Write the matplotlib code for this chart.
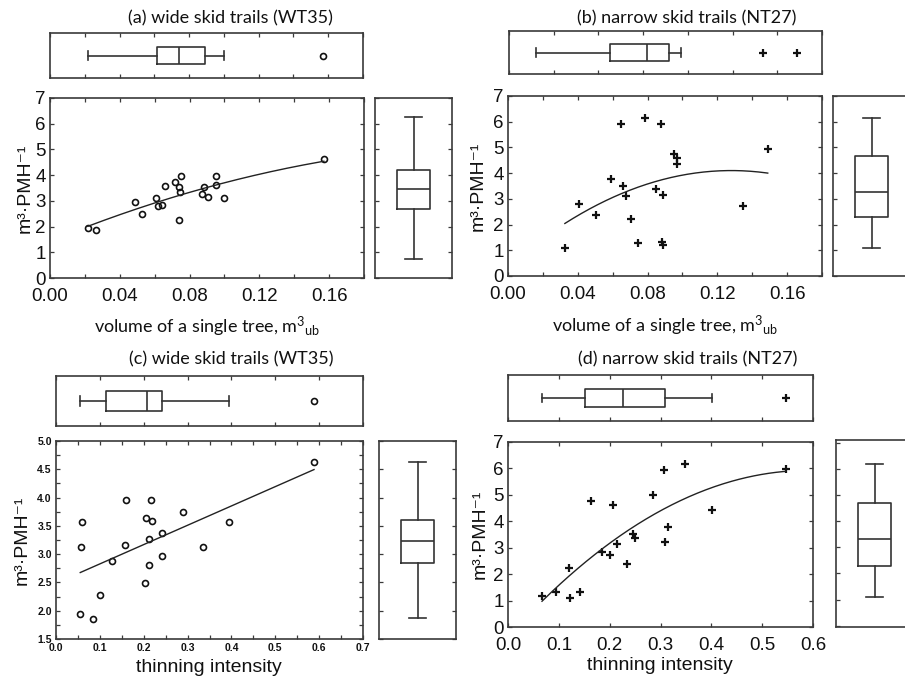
import numpy as np
import matplotlib
matplotlib.use("Agg")
import matplotlib.pyplot as plt
from matplotlib.ticker import MultipleLocator, NullFormatter

# ---------------- data ----------------
# (a) wide skid trails, volume of a single tree
xa = [0.0217, 0.0263, 0.0489, 0.0527, 0.0609, 0.0617, 0.0640, 0.0657, 0.0719, 0.0740,
      0.0743, 0.0749, 0.0740, 0.0872, 0.0881, 0.0904, 0.0954, 0.0954, 0.0996, 0.1570]
ya = [1.93, 1.87, 2.94, 2.48, 3.11, 2.79, 2.85, 3.56, 3.73, 3.55,
      3.36, 3.95, 2.27, 3.27, 3.55, 3.16, 3.95, 3.62, 3.12, 4.63]
fit_a = [-51.2, 27.85, 1.43]
top_box_a = [0.0217, 0.0614, 0.0742, 0.0892, 0.0998]
top_fliers_a = [0.157]
right_box_a = [0.73, 2.68, 3.45, 4.20, 6.25]

# (b) narrow skid trails, volume of a single tree
xb = [0.0326, 0.0408, 0.0502, 0.0588, 0.0650, 0.0659, 0.0674, 0.0705, 0.0745, 0.0788,
      0.0849, 0.0879, 0.0887, 0.0885, 0.0887, 0.0954, 0.0971, 0.0971, 0.1345, 0.1489]
yb = [1.08, 2.80, 2.37, 3.79, 5.92, 3.49, 3.11, 2.22, 1.30, 6.13,
      3.37, 5.90, 3.16, 1.34, 1.19, 4.73, 4.60, 4.37, 2.72, 4.95]
fit_b = [-226.0, 57.86, 0.397]
top_box_b = [0.0121, 0.0453, 0.0617, 0.0716, 0.0769]
top_fliers_b = [0.1138, 0.1287]
right_box_b = [1.10, 2.30, 3.27, 4.67, 6.15]

# (c) wide skid trails, thinning intensity
xc = [0.0553, 0.0576, 0.0599, 0.0842, 0.0993, 0.1281, 0.1577, 0.1607, 0.2039, 0.2047,
      0.2115, 0.2115, 0.2168, 0.2191, 0.2419, 0.2426, 0.2904, 0.3359, 0.3942, 0.5883]
yc = [1.94, 3.12, 3.56, 1.86, 2.28, 2.87, 3.16, 3.96, 2.49, 3.64,
      3.27, 2.80, 3.96, 3.58, 2.96, 3.37, 3.74, 3.12, 3.56, 4.62]
fit_c = [3.415, 2.486]
top_box_c = [0.0538, 0.113, 0.2077, 0.2419, 0.395]
top_fliers_c = [0.588]
right_box_c = [1.87, 2.84, 3.23, 3.61, 4.63]

# (d) narrow skid trails, thinning intensity
xd = [0.0669, 0.0938, 0.1193, 0.1213, 0.1410, 0.1626, 0.1843, 0.2000, 0.2072, 0.2151,
      0.2348, 0.2466, 0.2492, 0.2859, 0.3069, 0.3082, 0.3141, 0.3482, 0.4013, 0.5462]
yd = [1.19, 1.33, 2.24, 1.09, 1.33, 4.76, 2.84, 2.73, 4.63, 3.14,
      2.39, 3.51, 3.38, 4.99, 5.94, 3.20, 3.80, 6.18, 4.41, 5.97]
fit_d = [-18.0, 21.29, -0.369]
top_box_d = [0.0669, 0.1508, 0.2256, 0.3082, 0.402]
top_fliers_d = [0.546]
right_box_d = [1.09, 2.30, 3.32, 4.68, 6.19]

titles = ["(a) wide skid trails (WT35)", "(b) narrow skid trails (NT27)",
          "(c) wide skid trails (WT35)", "(d) narrow skid trails (NT27)"]
ylabel = "m³·PMH⁻¹"
xlabel_vol = r"volume of a single tree, m$^{3}$$_{\mathregular{ub}}$"
xlabel_thin = "thinning intensity"

# ---------------- style ----------------
W, H = 905, 685
plt.rcParams['mathtext.fontset'] = 'custom'
plt.rcParams['mathtext.rm'] = 'Lato'
plt.rcParams['mathtext.it'] = 'Lato:italic'
plt.rcParams['mathtext.bf'] = 'Lato:bold'
SP = '#3a3a3a'
TXT = '#111111'
ARIAL = ['Liberation Sans', 'DejaVu Sans']
CAL = ['Lato', 'DejaVu Sans']

fig = plt.figure(figsize=(W / 100, H / 100), dpi=100)


def add_ax(l, t, r, b):
    return fig.add_axes([l / W, 1 - b / H, (r - l) / W, (b - t) / H])


def style(ax):
    for s in ax.spines.values():
        s.set_color(SP)
        s.set_linewidth(1.2)
    ax.tick_params(which='both', direction='in', top=True, right=True,
                   color=SP, width=0.9, length=3, colors=SP, labelcolor=TXT)


def scatter_panel(ax, x, y, fit, marker, xlim, ylim, xmaj, xmin, ymaj, ymin,
                  xfmt, yfmt, tsize, tweight='normal', xpad=7):
    style(ax)
    if marker == 'o':
        ax.plot(x, y, ls='none', marker='o', ms=4.3, mfc='none', mec='#111111', mew=1.2)
    else:
        ax.plot(x, y, ls='none', marker='+', ms=6, mec='#111111', mew=1.6)
    xs = np.linspace(min(x), max(x), 200)
    ax.plot(xs, np.polyval(fit, xs), color='#222222', lw=1.0)
    ax.set_xlim(*xlim)
    ax.set_ylim(*ylim)
    ax.xaxis.set_major_locator(MultipleLocator(xmaj))
    ax.xaxis.set_minor_locator(MultipleLocator(xmin))
    ax.yaxis.set_major_locator(MultipleLocator(ymaj))
    if ymin:
        ax.yaxis.set_minor_locator(MultipleLocator(ymin))
    ax.xaxis.set_major_formatter(plt.FuncFormatter(lambda v, p: xfmt.format(v)))
    ax.yaxis.set_major_formatter(plt.FuncFormatter(lambda v, p: yfmt.format(v)))
    for lab in ax.get_xticklabels() + ax.get_yticklabels():
        lab.set_fontfamily(ARIAL)
        lab.set_fontsize(tsize)
        lab.set_fontweight(tweight)
    ax.tick_params(axis='x', which='major', pad=xpad)
    ax.tick_params(axis='y', which='major', pad=3)


def box_props(marker):
    if marker == 'o':
        fp = dict(marker='o', ms=4.3, mfc='none', mec='#111111', mew=1.2, ls='none')
    else:
        fp = dict(marker='+', ms=6, mec='#111111', mew=1.6, ls='none')
    lp = dict(color='#333333', lw=1.2)
    return dict(boxprops=lp, whiskerprops=lp, capprops=lp,
                medianprops=dict(color='#333333', lw=1.2), flierprops=fp)


def top_box(ax, stats, fliers, marker, xlim, xstep):
    style(ax)
    st = dict(whislo=stats[0], q1=stats[1], med=stats[2], q3=stats[3],
              whishi=stats[4], fliers=fliers)
    ax.bxp([st], positions=[0], widths=0.42, capwidths=0.21,
           orientation='horizontal', showfliers=True, **box_props(marker))
    ax.set_xlim(*xlim)
    ax.set_ylim(-0.55, 0.55)
    ax.xaxis.set_major_locator(MultipleLocator(xstep))
    ax.set_yticks([])
    ax.xaxis.set_major_formatter(NullFormatter())
    ax.tick_params(left=False, right=False)


def right_box(ax, stats, ylim, ystep):
    style(ax)
    st = dict(whislo=stats[0], q1=stats[1], med=stats[2], q3=stats[3],
              whishi=stats[4], fliers=[])
    ax.bxp([st], positions=[0], widths=0.42, capwidths=0.21,
           orientation='vertical', showfliers=False, **box_props('o'))
    ax.set_xlim(-0.5, 0.5)
    ax.set_ylim(*ylim)
    ax.yaxis.set_major_locator(MultipleLocator(ystep))
    ax.set_xticks([])
    ax.yaxis.set_major_formatter(NullFormatter())
    ax.tick_params(top=False, bottom=False)


# ---------------- panel (a) ----------------
ax = add_ax(50, 98, 364, 278)
scatter_panel(ax, xa, ya, fit_a, 'o', (0, 0.18), (0, 7), 0.04, 0.02, 1, None,
              "{:.2f}", "{:.0f}", 13.5)
ax = add_ax(375, 98, 452, 278)
right_box(ax, right_box_a, (0, 7), 1)
ax = add_ax(50, 33, 363, 78)
top_box(ax, top_box_a, top_fliers_a, 'o', (0, 0.18), 0.02)

# ---------------- panel (b) ----------------
ax = add_ax(508, 96, 822, 276)
scatter_panel(ax, xb, yb, fit_b, '+', (0, 0.18), (0, 7), 0.04, 0.02, 1, None,
              "{:.2f}", "{:.0f}", 13.5)
ax = add_ax(833, 96, 910, 276)
right_box(ax, right_box_b, (0, 7), 1)
ax = add_ax(509, 31, 822, 74)
top_box(ax, top_box_b, top_fliers_b, '+', (0, 0.14), 0.02)

# ---------------- panel (c) ----------------
ax = add_ax(56, 441, 363, 639)
scatter_panel(ax, xc, yc, fit_c, 'o', (0, 0.7), (1.5, 5.0), 0.1, 0.05, 0.5, 0.25,
              "{:.1f}", "{:.1f}", 7.5, 'bold', xpad=3)
ax = add_ax(379, 441, 456, 639)
right_box(ax, right_box_c, (1.5, 5.0), 0.5)
ax = add_ax(56, 376, 363, 426)
top_box(ax, top_box_c, top_fliers_c, 'o', (0, 0.7), 0.1)

# ---------------- panel (d) ----------------
ax = add_ax(508, 442, 813, 627)
scatter_panel(ax, xd, yd, fit_d, '+', (0, 0.6), (0, 7), 0.1, 0.1, 1, None,
              "{:.1f}", "{:.0f}", 13.5)
ax = add_ax(836, 440, 913, 627)
right_box(ax, right_box_d, (-0.05, 7.1), 1)
ax = add_ax(508, 375, 813, 421)
top_box(ax, top_box_d, top_fliers_d, '+', (0, 0.6), 0.1)

# ---------------- texts ----------------
def ftext(x, y, s, **kw):
    fig.text(x / W, 1 - y / H, s, ha='center', va='center', color=TXT, **kw)

ftext(230, 18, titles[0], fontsize=13, family=CAL)
ftext(687, 18, titles[1], fontsize=13, family=CAL)
ftext(231, 359, titles[2], fontsize=13, family=CAL)
ftext(688, 359, titles[3], fontsize=13, family=CAL)

ftext(207, 327, xlabel_vol, fontsize=13, family=CAL)
ftext(665, 326, xlabel_vol, fontsize=13, family=CAL)
ftext(209, 667, xlabel_thin, fontsize=14, family=ARIAL)
ftext(660, 666, xlabel_thin, fontsize=14, family=ARIAL)

ftext(25, 188, ylabel, fontsize=14, family=ARIAL, rotation=90)
ftext(478, 186, ylabel, fontsize=14, family=ARIAL, rotation=90)
ftext(22, 540, ylabel, fontsize=14, family=ARIAL, rotation=90)
ftext(480, 534, ylabel, fontsize=14, family=ARIAL, rotation=90)

fig.savefig("out.png", dpi=100)
